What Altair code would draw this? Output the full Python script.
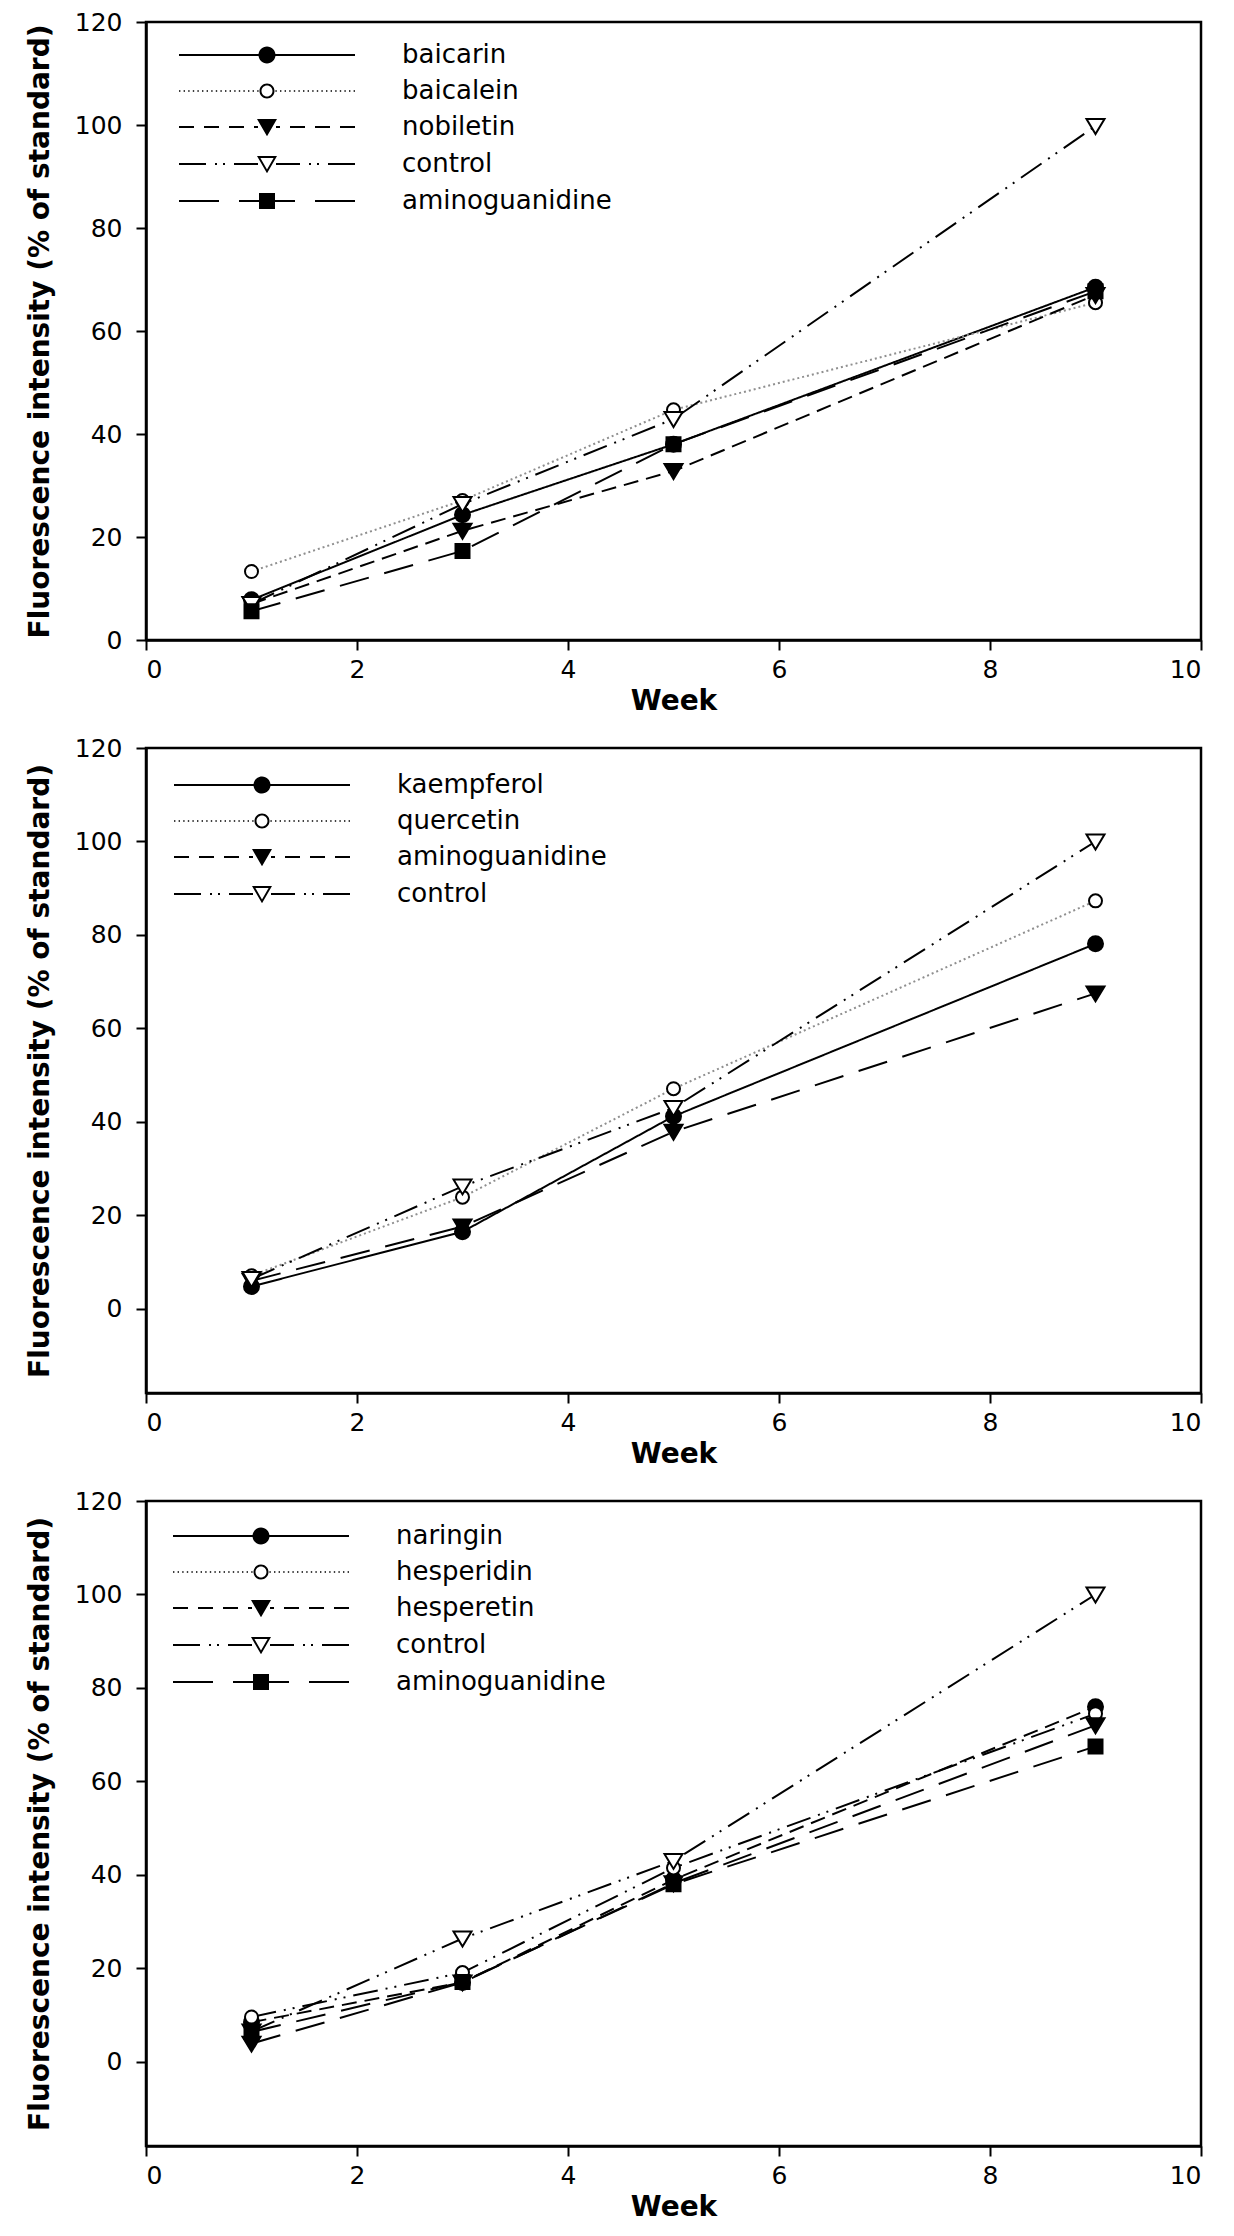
import altair as alt
import pandas as pd

weeks = [1, 3, 5, 9]

# top panel
top_series = ["baicarin", "baicalein", "nobiletin", "control", "aminoguanidine"]
top_styles = ["A", "B", "C", "D", "E"]
top_baicarin = [7.8, 24.3, 38.0, 68.5]
top_baicalein = [13.3, 27.1, 44.7, 65.5]
top_nobiletin = [7.0, 21.2, 32.8, 67.0]
top_control = [7.0, 26.4, 42.9, 99.8]
top_aminoguanidine = [5.6, 17.3, 38.0, 67.7]

# middle panel
mid_series = ["kaempferol", "quercetin", "aminoguanidine", "control"]
mid_styles = ["A", "B", "C", "D"]
mid_kaempferol = [4.8, 16.5, 41.2, 78.1]
mid_quercetin = [7.1, 23.9, 47.1, 87.3]
mid_aminoguanidine = [6.0, 17.6, 37.9, 67.5]
mid_control = [6.4, 26.2, 43.0, 100.0]

# bottom panel
bot_series = ["naringin", "hesperidin", "hesperetin", "control", "aminoguanidine"]
bot_styles = ["A", "B", "C", "D", "E"]
bot_naringin = [8.5, 17.0, 39.0, 76.0]
bot_hesperidin = [9.6, 19.1, 41.5, 74.5]
bot_hesperetin = [3.9, 17.0, 38.2, 72.0]
bot_control = [6.5, 26.4, 43.0, 100.0]
bot_aminoguanidine = [6.4, 17.1, 38.0, 67.5]

x_ticks = [0, 2, 4, 6, 8, 10]
y_ticks = [0, 20, 40, 60, 80, 100, 120]

FONT = "DejaVu Sans"

# line / marker styles (SigmaPlot-like)
LINE_DASH = {"A": [1, 0], "B": [2, 3], "C": [15, 8], "D": [25, 8, 2, 7, 2, 8], "E": [30, 16]}
LEGEND_DASH = {"A": None, "B": [1.4, 3.2], "C": [15, 10], "D": [27, 9, 2, 6, 2, 9], "E": [40, 20]}
LINE_COLOR = {"A": "black", "B": "#8f8f8f", "C": "black", "D": "black", "E": "black"}
FILL = {"A": "black", "B": "white", "C": "black", "D": "white", "E": "black"}
GAP_R = {"A": 8, "B": 7.5, "C": 9, "D": 9, "E": 8}


def circle(r, sweep=1):
    return f"M{r},0A{r},{r} 0 1,{sweep} {-r},0A{r},{r} 0 1,{sweep} {r},0Z"


def poly(pts):
    return "M" + "L".join(f"{x},{y}" for x, y in pts) + "Z"


def square(h):
    return poly([(-h, -h), (h, -h), (h, h), (-h, h)])


TRI = [(-9, -7), (9, -7), (0, 8)]
TRI_BIG = [(-10, -8), (10, -8), (0, 9.3)]
TRI_HOLE = [(-6.6, -6), (0, 5.6), (6.6, -6)]

# plot markers (black outline of 2px is added by the mark stroke)
MARK_PATH = {
    "A": circle(7.5),
    "B": circle(6.5),
    "C": poly(TRI),
    "D": poly(TRI),
    "E": square(7),
}
# legend symbols are fill only: open markers are rings
LEGEND_MARK = {
    "A": circle(8.5),
    "B": circle(7.5) + circle(5.5, 0),
    "C": poly(TRI_BIG),
    "D": poly(TRI_BIG) + poly(TRI_HOLE),
    "E": square(8),
}


def legend_symbol(style, half=88):
    r = GAP_R[style]
    dash = LEGEND_DASH[style]
    t = 0.7 if style == "B" else 1.0
    pieces = []
    if dash is None:
        pieces.append((half, r))
    else:
        d, i = half, 0
        while d > r:
            length = dash[i % len(dash)]
            if i % 2 == 0:
                pieces.append((d, max(d - length, r)))
            d -= length
            i += 1
    segs = []
    for a, b in pieces:
        if a - b > 0.2:
            segs.append(f"M{-a:.1f},{-t}H{-b:.1f}V{t}H{-a:.1f}Z")
            segs.append(f"M{b:.1f},{-t}H{a:.1f}V{t}H{b:.1f}Z")
    return "".join(segs) + LEGEND_MARK[style]


def build_frame(series, values):
    rows = []
    for name, vals in zip(series, values):
        for w, v in zip(weeks, vals):
            rows.append({"week": w, "value": v, "series": name})
    return pd.DataFrame(rows)


def panel(series, styles, values, y_min, height, legend_x, legend_y):
    df = build_frame(series, values)
    x = alt.X("week:Q", title="Week",
              scale=alt.Scale(domain=[0, 10], nice=False),
              axis=alt.Axis(values=x_ticks))
    y = alt.Y("value:Q", title="Fluorescence intensity (% of standard)",
              scale=alt.Scale(domain=[y_min, 120], nice=False, zero=False),
              axis=alt.Axis(values=y_ticks))

    lines = alt.Chart(df).mark_line(strokeWidth=2).encode(
        x=x, y=y,
        color=alt.Color("series:N", legend=None,
                        scale=alt.Scale(domain=series, range=[LINE_COLOR[s] for s in styles])),
        strokeDash=alt.StrokeDash("series:N", legend=None,
                                  scale=alt.Scale(domain=series, range=[LINE_DASH[s] for s in styles])),
    )

    points = alt.Chart(df).mark_point(
        filled=True, size=4, stroke="black", strokeWidth=2, opacity=1
    ).encode(
        x=x, y=y,
        shape=alt.Shape("series:N", legend=None,
                        scale=alt.Scale(domain=series, range=[MARK_PATH[s] for s in styles])),
        fill=alt.Fill("series:N", legend=None,
                      scale=alt.Scale(domain=series, range=[FILL[s] for s in styles])),
    )

    # legend only: no marks drawn, symbols are line + marker paths
    legend = alt.Chart(df).transform_filter("false").mark_point(
        filled=True, size=4, color="black", stroke="black", strokeWidth=2, opacity=1
    ).encode(
        x=x, y=y,
        shape=alt.Shape(
            "series:N",
            scale=alt.Scale(domain=series, range=[legend_symbol(s) for s in styles]),
            legend=alt.Legend(
                title=None, orient="none", legendX=legend_x, legendY=legend_y,
                symbolSize=4, symbolStrokeWidth=2, symbolFillColor="black",
                symbolStrokeColor="black", labelFont=FONT, labelFontSize=26,
                labelColor="black", labelOffset=122, rowPadding=10, padding=0,
                labelLimit=400,
            ),
        ),
    )

    return alt.layer(lines, points, legend).resolve_scale(shape="independent").properties(
        width=1055, height=height
    )


top = panel(top_series, top_styles,
            [top_baicarin, top_baicalein, top_nobiletin, top_control, top_aminoguanidine],
            0, 618, 108, 20)
mid = panel(mid_series, mid_styles,
            [mid_kaempferol, mid_quercetin, mid_aminoguanidine, mid_control],
            -18, 645, 103, 24)
bot = panel(bot_series, bot_styles,
            [bot_naringin, bot_hesperidin, bot_hesperetin, bot_control, bot_aminoguanidine],
            -18, 645, 102, 22)

chart = alt.vconcat(top, mid, bot, spacing=17).properties(
    padding={"left": 17, "top": 0, "right": 2, "bottom": 0}
).configure_view(
    stroke="black", strokeWidth=2.5
).configure_axis(
    grid=False, domainColor="black", domainWidth=2.5, tickColor="black", tickWidth=2,
    tickSize=10, labelFont=FONT, labelFontSize=25, labelColor="black",
    titleFont=FONT, titleFontWeight="bold", titleFontSize=28, titleColor="black",
).configure_axisX(
    labelPadding=7, titlePadding=5
).configure_axisY(
    labelPadding=14, titlePadding=20
)

chart.save("out.html", embed_options={"renderer": "svg", "actions": False})
